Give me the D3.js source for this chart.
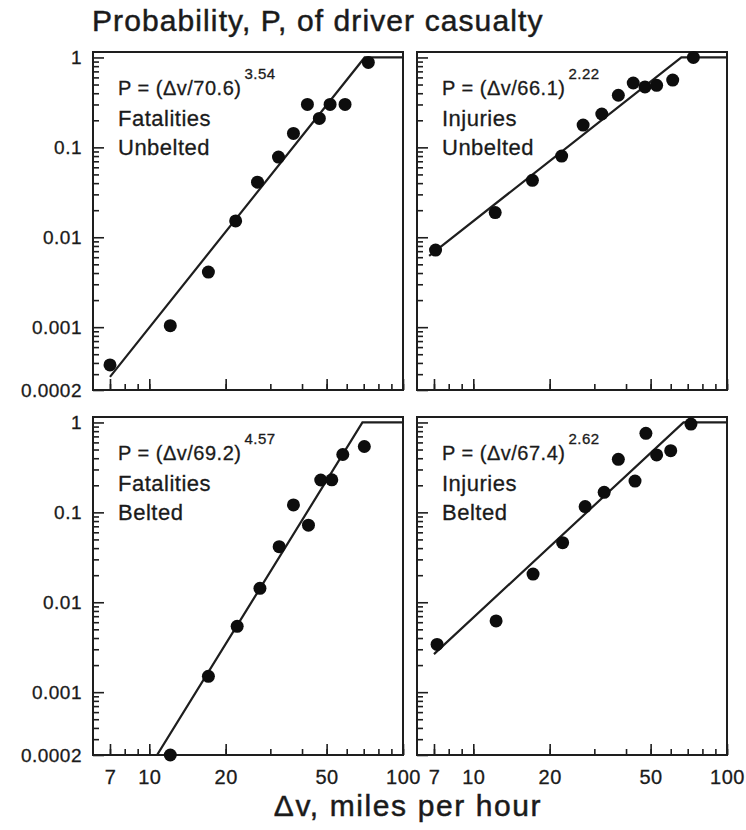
<!DOCTYPE html>
<html><head><meta charset="utf-8">
<script src="https://cdn.jsdelivr.net/npm/d3@7"></script>
<style>
body{margin:0;background:#fff;}
svg text{font-family:"Liberation Sans", Arial, Helvetica, sans-serif; fill:#1a1a1a;}
</style></head><body>
<svg id="chart" width="746" height="830"></svg>
<script>
// ---- data ----
const xTickValues = [7, 10, 20, 50, 100];
const xTickLabels = ["7", "10", "20", "50", "100"];
const xMinorTicks = [7, 8, 9, 10, 20, 30, 40, 50, 60, 70, 80, 90, 100];
const yTickValues = [1, 0.1, 0.01, 0.001, 0.0002];
const yTickLabels = ["1", "0.1", "0.01", "0.001", "0.0002"];
const yMinorTicks = [0.0003, 0.0004, 0.0005, 0.0006, 0.0007, 0.0008, 0.0009,
  0.002, 0.003, 0.004, 0.005, 0.006, 0.007, 0.008, 0.009,
  0.02, 0.03, 0.04, 0.05, 0.06, 0.07, 0.08, 0.09,
  0.2, 0.3, 0.4, 0.5, 0.6, 0.7, 0.8, 0.9];

const panelOutcome = ["Fatalities", "Injuries", "Fatalities", "Injuries"];
const panelRestraint = ["Unbelted", "Unbelted", "Belted", "Belted"];
const fitScale = [70.6, 66.1, 69.2, 67.4];
const fitExponent = [3.54, 2.22, 4.57, 2.62];
const fitScaleLabels = ["70.6", "66.1", "69.2", "67.4"];
const fitExponentLabels = ["3.54", "2.22", "4.57", "2.62"];
const fitStartV = [7, 6.7, 6, 7];

const fatalUnbeltedV = [7.0, 12.1, 17.1, 21.9, 26.7, 32.3, 37.0, 42.0, 46.8, 51.6, 59.1, 73.0];
const fatalUnbeltedP = [0.00038, 0.00104, 0.0041, 0.0152, 0.041, 0.078, 0.143, 0.30, 0.21, 0.30, 0.30, 0.88];
const injuryUnbeltedV = [7.1, 12.2, 17.1, 22.3, 27.1, 32.1, 37.3, 42.7, 47.5, 52.8, 61.1, 73.7];
const injuryUnbeltedP = [0.0072, 0.0188, 0.043, 0.080, 0.177, 0.235, 0.38, 0.52, 0.47, 0.49, 0.56, 1.0];
const fatalBeltedV = [12.1, 17.1, 22.2, 27.3, 32.5, 37.0, 42.4, 47.4, 52.4, 57.9, 70.4];
const fatalBeltedP = [0.0002, 0.0015, 0.0054, 0.0143, 0.0415, 0.121, 0.072, 0.229, 0.23, 0.44, 0.54];
const injuryBeltedV = [7.2, 12.3, 17.2, 22.5, 27.6, 32.8, 37.3, 43.4, 47.9, 52.8, 60.0, 72.1];
const injuryBeltedP = [0.0034, 0.0062, 0.0206, 0.046, 0.116, 0.167, 0.389, 0.223, 0.757, 0.435, 0.485, 0.96];

const seriesV = [fatalUnbeltedV, injuryUnbeltedV, fatalBeltedV, injuryBeltedV];
const seriesP = [fatalUnbeltedP, injuryUnbeltedP, fatalBeltedP, injuryBeltedP];

// ---- layout ----
const panelLeft = [93, 417, 93, 417];
const panelTop = [52, 52, 417, 417];
const PW = 310, PH = 338;

const svg = d3.select("#chart");
const ink = "#1e1e1e";

svg.append("text")
  .attr("x", 92).attr("y", 31)
  .style("font-size", "30px").style("letter-spacing", "1.1px")
  .attr("stroke", ink).attr("stroke-width", 0.5)
  .text("Probability, P, of driver casualty");

svg.append("text")
  .attr("x", 408).attr("y", 816).attr("text-anchor", "middle")
  .style("font-size", "30px").style("letter-spacing", "1.6px")
  .attr("stroke", ink).attr("stroke-width", 0.5)
  .text("Δv, miles per hour");

for (let i = 0; i < 4; i++) {
  const L = panelLeft[i], T = panelTop[i];
  const isLeft = (i % 2 === 0), isBottom = (i >= 2);
  const x = d3.scaleLog().domain([6, 100]).range([L, L + PW]);
  const y = d3.scaleLog().domain([0.0002, 1.15]).range([T + PH, T]);
  const g = svg.append("g");

  const clipId = "clip" + i;
  svg.append("clipPath").attr("id", clipId)
    .append("rect").attr("x", L).attr("y", T).attr("width", PW).attr("height", PH);

  // tick marks pointing into the panel
  const yMinor = g.append("g").attr("transform", `translate(${L},0)`)
    .call(d3.axisRight(y).tickValues(yMinorTicks).tickSize(6).tickFormat(""));
  const yMajorMarks = g.append("g").attr("transform", `translate(${L},0)`)
    .call(d3.axisRight(y).tickValues(yTickValues).tickSize(11).tickFormat(""));
  const yLabels = g.append("g").attr("transform", `translate(${L},0)`)
    .call(d3.axisLeft(y).tickValues(yTickValues).tickSize(0).tickPadding(11)
      .tickFormat((d, k) => isLeft ? yTickLabels[k] : ""));
  const xMinor = g.append("g").attr("transform", `translate(0,${T + PH})`)
    .call(d3.axisTop(x).tickValues(xMinorTicks).tickSize(6).tickFormat(""));
  const xMajorMarks = g.append("g").attr("transform", `translate(0,${T + PH})`)
    .call(d3.axisTop(x).tickValues(xTickValues).tickSize(11).tickFormat(""));
  const xLabels = g.append("g").attr("transform", `translate(0,${T + PH})`)
    .call(d3.axisBottom(x).tickValues(xTickValues).tickSize(0).tickPadding(15)
      .tickFormat((d, k) => isBottom ? xTickLabels[k] : ""));

  [yMinor, yMajorMarks, yLabels, xMinor, xMajorMarks, xLabels].forEach(a => {
    a.select(".domain").remove();
    a.selectAll(".tick line").attr("stroke", ink).attr("stroke-width", 1.6);
  });
  yLabels.selectAll("text").style("font-size", "19px");
  xLabels.selectAll("text").style("font-size", "20px");
  [yLabels, xLabels].forEach(a => {
    a.selectAll("text")
      .style("letter-spacing", "0.5px")
      .style("font-family", '"Liberation Sans", Arial, sans-serif')
      .attr("fill", ink).attr("stroke", ink).attr("stroke-width", 0.3);
  });

  g.append("rect").attr("x", L).attr("y", T).attr("width", PW).attr("height", PH)
    .attr("fill", "none").attr("stroke", ink).attr("stroke-width", 2);

  const a = fitScale[i], b = fitExponent[i];
  const lineV = [fitStartV[i], a, 100];
  const lineData = lineV.map(v => [v, Math.min(1, Math.pow(v / a, b))]);
  g.append("path")
    .datum(lineData)
    .attr("clip-path", `url(#${clipId})`)
    .attr("fill", "none").attr("stroke", ink).attr("stroke-width", 2.2)
    .attr("d", d3.line().x(d => x(d[0])).y(d => y(d[1])));

  g.selectAll("circle.pt").data(seriesV[i].map((v, k) => [v, seriesP[i][k]]))
    .enter().append("circle").attr("class", "pt")
    .attr("cx", d => x(d[0])).attr("cy", d => y(d[1])).attr("r", 6.5)
    .attr("fill", "#0d0d0d");

  const tx = L + 25;
  const eq = g.append("text").attr("x", tx).attr("y", T + 43)
    .style("font-size", "20px").style("letter-spacing", "0.5px")
    .attr("stroke", ink).attr("stroke-width", 0.3);
  eq.append("tspan").text(`P = (Δv/${fitScaleLabels[i]})`);
  eq.append("tspan").attr("dx", 3).attr("dy", -16).style("font-size", "15px")
    .text(fitExponentLabels[i]);
  g.append("text").attr("x", tx).attr("y", T + 74)
    .style("font-size", "22px").style("letter-spacing", "0.5px")
    .attr("stroke", ink).attr("stroke-width", 0.3)
    .text(panelOutcome[i]);
  g.append("text").attr("x", tx).attr("y", T + 103)
    .style("font-size", "22px").style("letter-spacing", "0.5px")
    .attr("stroke", ink).attr("stroke-width", 0.3)
    .text(panelRestraint[i]);
}
</script>
</body></html>
